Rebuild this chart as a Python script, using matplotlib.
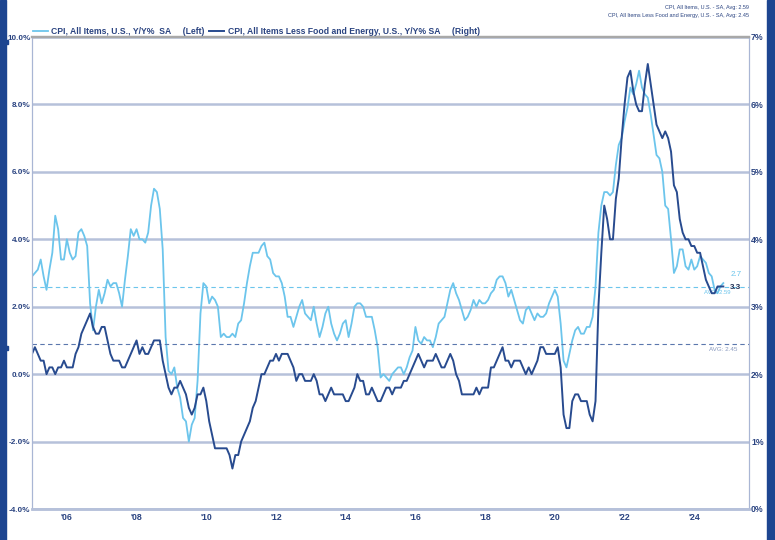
import matplotlib
matplotlib.use('Agg')
import matplotlib.pyplot as plt
from matplotlib.patches import Rectangle
import numpy as np

# monthly Y/Y %, Jan 2005 .. Nov 2024
headline = [
    2.9, 3.0, 3.1, 3.4, 2.9, 2.5, 3.1, 3.6, 4.7, 4.3, 3.4, 3.4,
    4.0, 3.6, 3.4, 3.5, 4.2, 4.3, 4.1, 3.8, 2.1, 1.3, 2.0, 2.5,
    2.1, 2.4, 2.8, 2.6, 2.7, 2.7, 2.4, 2.0, 2.8, 3.5, 4.3, 4.1,
    4.3, 4.0, 4.0, 3.9, 4.2, 5.0, 5.5, 5.4, 4.9, 3.7, 1.1, 0.1,
    0.0, 0.2, -0.4, -0.7, -1.3, -1.4, -2.0, -1.5, -1.3, -0.2, 1.8, 2.7,
    2.6, 2.1, 2.3, 2.2, 2.0, 1.1, 1.2, 1.1, 1.1, 1.2, 1.1, 1.5,
    1.6, 2.1, 2.7, 3.2, 3.6, 3.6, 3.6, 3.8, 3.9, 3.5, 3.4, 3.0,
    2.9, 2.9, 2.7, 2.3, 1.7, 1.7, 1.4, 1.7, 2.0, 2.2, 1.8, 1.7,
    1.6, 2.0, 1.5, 1.1, 1.4, 1.8, 2.0, 1.5, 1.2, 1.0, 1.2, 1.5,
    1.6, 1.1, 1.5, 2.0, 2.1, 2.1, 2.0, 1.7, 1.7, 1.7, 1.3, 0.8,
    -0.1, 0.0, -0.1, -0.2, 0.0, 0.1, 0.2, 0.2, 0.0, 0.2, 0.5, 0.7,
    1.4, 1.0, 0.9, 1.1, 1.0, 1.0, 0.8, 1.1, 1.5, 1.6, 1.7, 2.1,
    2.5, 2.7, 2.4, 2.2, 1.9, 1.6, 1.7, 1.9, 2.2, 2.0, 2.2, 2.1,
    2.1, 2.2, 2.4, 2.5, 2.8, 2.9, 2.9, 2.7, 2.3, 2.5, 2.2, 1.9,
    1.6, 1.5, 1.9, 2.0, 1.8, 1.6, 1.8, 1.7, 1.7, 1.8, 2.1, 2.3,
    2.5, 2.3, 1.5, 0.4, 0.2, 0.6, 1.0, 1.3, 1.4, 1.2, 1.2, 1.4,
    1.4, 1.7, 2.6, 4.2, 5.0, 5.4, 5.4, 5.3, 5.4, 6.2, 6.8, 7.0,
    7.5, 7.9, 8.5, 8.3, 8.6, 9.0, 8.5, 8.3, 8.2, 7.7, 7.1, 6.5,
    6.4, 6.0, 5.0, 4.9, 4.0, 3.0, 3.2, 3.7, 3.7, 3.2, 3.1, 3.4,
    3.1, 3.2, 3.5, 3.4, 3.3, 3.0, 2.9, 2.5, 2.4, 2.6, 2.7,
]
core = [
    2.3, 2.4, 2.3, 2.2, 2.2, 2.0, 2.1, 2.1, 2.0, 2.1, 2.1, 2.2,
    2.1, 2.1, 2.1, 2.3, 2.4, 2.6, 2.7, 2.8, 2.9, 2.7, 2.6, 2.6,
    2.7, 2.7, 2.5, 2.3, 2.2, 2.2, 2.2, 2.1, 2.1, 2.2, 2.3, 2.4,
    2.5, 2.3, 2.4, 2.3, 2.3, 2.4, 2.5, 2.5, 2.5, 2.2, 2.0, 1.8,
    1.7, 1.8, 1.8, 1.9, 1.8, 1.7, 1.5, 1.4, 1.5, 1.7, 1.7, 1.8,
    1.6, 1.3, 1.1, 0.9, 0.9, 0.9, 0.9, 0.9, 0.8, 0.6, 0.8, 0.8,
    1.0, 1.1, 1.2, 1.3, 1.5, 1.6, 1.8, 2.0, 2.0, 2.1, 2.2, 2.2,
    2.3, 2.2, 2.3, 2.3, 2.3, 2.2, 2.1, 1.9, 2.0, 2.0, 1.9, 1.9,
    1.9, 2.0, 1.9, 1.7, 1.7, 1.6, 1.7, 1.8, 1.7, 1.7, 1.7, 1.7,
    1.6, 1.6, 1.7, 1.8, 2.0, 1.9, 1.9, 1.7, 1.7, 1.8, 1.7, 1.6,
    1.6, 1.7, 1.8, 1.8, 1.7, 1.8, 1.8, 1.8, 1.9, 1.9, 2.0, 2.1,
    2.2, 2.3, 2.2, 2.1, 2.2, 2.2, 2.2, 2.3, 2.2, 2.1, 2.1, 2.2,
    2.3, 2.2, 2.0, 1.9, 1.7, 1.7, 1.7, 1.7, 1.7, 1.8, 1.7, 1.8,
    1.8, 1.8, 2.1, 2.1, 2.2, 2.3, 2.4, 2.2, 2.2, 2.1, 2.2, 2.2,
    2.2, 2.1, 2.0, 2.1, 2.0, 2.1, 2.2, 2.4, 2.4, 2.3, 2.3, 2.3,
    2.3, 2.4, 2.1, 1.4, 1.2, 1.2, 1.6, 1.7, 1.7, 1.6, 1.6, 1.6,
    1.4, 1.3, 1.6, 3.0, 3.8, 4.5, 4.3, 4.0, 4.0, 4.6, 4.9, 5.5,
    6.0, 6.4, 6.5, 6.2, 6.0, 5.9, 5.9, 6.3, 6.6, 6.3, 6.0, 5.7,
    5.6, 5.5, 5.6, 5.5, 5.3, 4.8, 4.7, 4.3, 4.1, 4.0, 4.0, 3.9,
    3.9, 3.8, 3.8, 3.6, 3.4, 3.3, 3.2, 3.2, 3.3, 3.3, 3.3,
]
avg_headline = 2.59
avg_core = 2.45
year_ticks = [2006, 2008, 2010, 2012, 2014, 2016, 2018, 2020, 2022, 2024]
year_labels = ["'06", "'08", "'10", "'12", "'14", "'16", "'18", "'20", "'22", "'24"]

light = '#6cc5ec'
dark = '#284b8f'
navy = '#2b4481'
grid_c = '#b6c1da'
FONT = ['Liberation Sans Narrow', 'Liberation Sans', 'DejaVu Sans']
plt.rcParams['font.family'] = FONT

x = 2005 + np.arange(len(headline)) / 12.0

fig = plt.figure(figsize=(7.75, 5.4), dpi=100)
ax = fig.add_axes([32/775, 31/540, 717/775, 472/540])
ax2 = ax.twinx()

ax.set_xlim(2005.0, 2025.57)
ax.set_ylim(-4, 10)
ax2.set_ylim(0, 7)

ax.set_yticks(np.arange(-4, 10.1, 2))
ax.set_yticklabels([f'{v:.1f}%' for v in np.arange(-4, 10.1, 2)])
ax2.set_yticks(np.arange(0, 7.1, 1))
ax2.set_yticklabels([f'{v:.0f}%' for v in np.arange(0, 7.1, 1)])
ax.set_xticks(year_ticks)
ax.set_xticklabels(year_labels)

ax.set_axisbelow(True)
ax.yaxis.grid(True, color=grid_c, lw=1.8)
for a in (ax, ax2):
    a.tick_params(length=0, labelsize=6.3, labelcolor=navy)
    for lab in a.get_yticklabels() + a.get_xticklabels():
        lab.set_fontweight('bold')
    a.spines['left'].set_color('#a9b6d4')
    a.spines['right'].set_color('#a9b6d4')
    a.spines['bottom'].set_color(grid_c)
    a.spines['bottom'].set_linewidth(1.8)
    a.spines['top'].set_color('#a8a8a8')
    a.spines['top'].set_linewidth(1.6)
ax.tick_params(axis='y', pad=1.0, labelsize=5.9)
ax2.tick_params(axis='y', pad=1.5)
ax.tick_params(axis='x', pad=3)

ax.axhline(avg_headline, color=light, lw=0.8, ls=(0, (4, 3)))
ax2.axhline(avg_core, color='#5b77ad', lw=0.8, ls=(0, (4, 3)))

l1, = ax.plot(x, headline, color=light, lw=1.3,
              label='CPI, All Items, U.S., Y/Y%  SA     (Left)')
l2, = ax2.plot(x, core, color=dark, lw=1.4,
               label='CPI, All Items Less Food and Energy, U.S., Y/Y% SA     (Right)')

ax.annotate(f'{headline[-1]:.1f}', xy=(x[-1], headline[-1]), xytext=(5, 6),
            textcoords='offset points', color=light, fontsize=5.8, va='center')
ax2.annotate(f'{core[-1]:.1f}', xy=(x[-1], core[-1]), xytext=(5, -1),
             textcoords='offset points', color='#1f2f55', fontsize=5.8,
             fontweight='bold', va='center')
ax.annotate(f'AVG: {avg_headline:.2f}', xy=(2025.05, avg_headline), xytext=(0, -4),
            textcoords='offset points', color=light, fontsize=4.2, ha='right', va='center')
ax2.annotate(f'AVG: {avg_core:.2f}', xy=(2025.25, avg_core), xytext=(0, -4),
             textcoords='offset points', color='#8798bd', fontsize=4.5, ha='right', va='center')

leg = ax.legend(handles=[l1, l2], loc='lower left', bbox_to_anchor=(0.0, 1.0),
                ncol=2, frameon=False, borderaxespad=0.1, borderpad=0,
                handlelength=1.7, handletextpad=0.4, columnspacing=0.6,
                prop={'family': FONT, 'size': 6.2, 'weight': 'bold'})
for t in leg.get_texts():
    t.set_color(navy)

fig.text(749/775, 1 - 7/540, f'CPI, All Items, U.S. - SA, Avg: {avg_headline:.2f}',
         ha='right', va='center', fontsize=4, color=navy)
fig.text(749/775, 1 - 16/540, f'CPI, All Items Less Food and Energy, U.S. - SA, Avg: {avg_core:.2f}',
         ha='right', va='center', fontsize=4, color=navy)

bar_c = '#1d4590'
fig.patches.append(Rectangle((0, 0), 6/775, 1, transform=fig.transFigure, color=bar_c))
fig.patches.append(Rectangle((767/775, 0), 8/775, 1, transform=fig.transFigure, color=bar_c))
fig.patches.append(Rectangle((0, 1 - 44/540), 8/775, 4/540, transform=fig.transFigure, color=bar_c))
fig.patches.append(Rectangle((0, 1 - 350/540), 8/775, 4/540, transform=fig.transFigure, color=bar_c))

fig.savefig('out.png', dpi=100)
